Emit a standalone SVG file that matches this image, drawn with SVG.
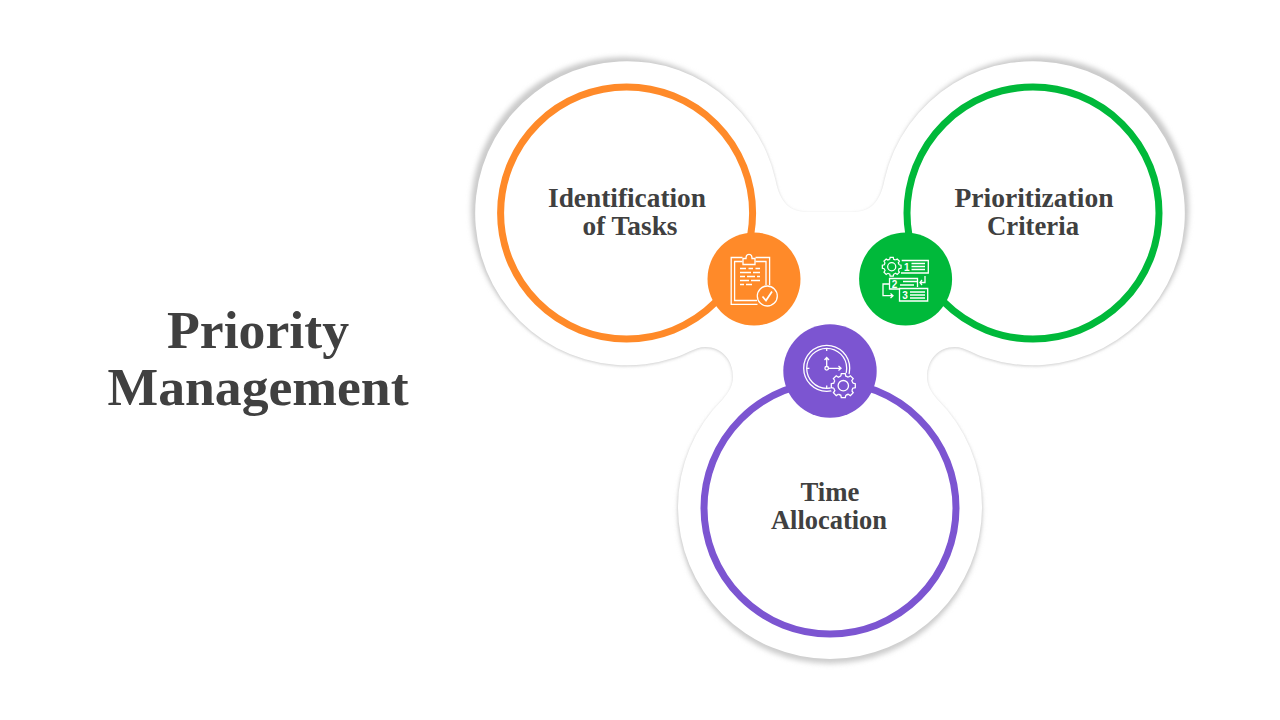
<svg xmlns="http://www.w3.org/2000/svg" xmlns:xlink="http://www.w3.org/1999/xlink" width="1280" height="720" viewBox="0 0 1280 720">
<style>
.t{font-family:"Liberation Serif","Noto Serif",serif;font-weight:700;fill:#404040;text-anchor:middle}
.title{font-size:52px}
.lab{font-size:28px}
.ring{fill:#fff;stroke-width:7}
.ic{fill:none;stroke:#fff;stroke-width:1.3;stroke-linecap:butt;stroke-linejoin:miter}
.num{font-family:"Liberation Sans",sans-serif;font-weight:700;font-size:10px;fill:#fff;text-anchor:middle}
</style>
<defs>
<filter id="b1" x="-10%" y="-10%" width="120%" height="120%"><feGaussianBlur stdDeviation="2.8"/></filter>
<filter id="b2" x="-10%" y="-10%" width="120%" height="120%"><feGaussianBlur stdDeviation="1.400"/></filter>
<path id="blobp" d="M775.500 180C780 203 790 212 808 212H852C870 212 880 203 884.500 180A152 152 0 1 1 985 357.500C975 355 965 347 955 347C938 347 927 360 927 377C927 385 931 392 937 399A152 152 0 1 1 723 399C729 392 733 385 733 377C733 360 722 347 705 347C695 347 685 355 675 357.500A152 152 0 1 1 775.500 180Z"/>
<g id="gear"><g id="tooth"><path d="M-2.500 -9.500L-2 -12H2L2.500 -9.500A9.820 9.820 0 0 1 4.950 -8.480"/></g>
<use xlink:href="#tooth" transform="rotate(45)"/><use xlink:href="#tooth" transform="rotate(90)"/><use xlink:href="#tooth" transform="rotate(135)"/><use xlink:href="#tooth" transform="rotate(180)"/><use xlink:href="#tooth" transform="rotate(225)"/><use xlink:href="#tooth" transform="rotate(270)"/><use xlink:href="#tooth" transform="rotate(315)"/><circle r="5.200"/></g>
</defs>
<rect width="1280" height="720" fill="#fff"/>
<g id="backdrop">
<circle cx="623" cy="209" r="152" fill="#cbcbcb" filter="url(#b1)"/>
<circle cx="1037" cy="209" r="152" fill="#cbcbcb" filter="url(#b1)"/>
<circle cx="830" cy="512" r="152" fill="#d0d0d0" filter="url(#b1)"/>
<use xlink:href="#blobp" fill="#cfcfcf" filter="url(#b2)" transform="translate(0 1)"/>
<use xlink:href="#blobp" fill="#fff"/>
</g>
<g id="title"><text class="t title" x="258" y="348" textLength="182" lengthAdjust="spacingAndGlyphs">Priority</text><text class="t title" x="258" y="405" textLength="301" lengthAdjust="spacingAndGlyphs">Management</text></g>
<g id="node-identification">
<circle class="ring" cx="626.600" cy="213" r="126" stroke="#ff8a29"/>
<text class="t lab" x="627" y="207" textLength="158" lengthAdjust="spacingAndGlyphs">Identification</text>
<text class="t lab" x="630" y="235" textLength="95" lengthAdjust="spacingAndGlyphs">of Tasks</text>
<circle cx="754" cy="279" r="46.500" fill="#ff8a29"/>
<g class="ic">
<path d="M757.500 304.400H731.200V257.500H742.500M755.500 257.500H769.600V285"/>
<path d="M757 300.500H734.600V261.500H742.500M755.500 261.500H766V285"/>
<path d="M743 264.500V258.500H746C746 253 752 253 752 258.500H755V264.500Z"/>
<circle cx="767.300" cy="296" r="10"/>
<path d="M762.500 296.500L766 300.500L772 291.500" stroke-width="1.700"/>
<path d="M740 268.500H746M748.500 268.500H753M755.500 268.500H760M740 272.500H751M753 272.500H760M740 276.500H745M747 276.500H755M757 276.500H760M740 280.500H749M751 280.500H760M740 284.500H744M746 284.500H752" stroke-width="1.600"/>
</g>
</g>
<g id="node-prioritization">
<circle class="ring" cx="1033" cy="213" r="126" stroke="#00b93a"/>
<text class="t lab" x="1034" y="207" textLength="159" lengthAdjust="spacingAndGlyphs">Prioritization</text>
<text class="t lab" x="1033" y="235" textLength="92" lengthAdjust="spacingAndGlyphs">Criteria</text>
<circle cx="905.600" cy="279" r="46.500" fill="#00b93a"/>
<g class="ic">
<use xlink:href="#gear" transform="translate(891.700 266.700) scale(.78)" stroke-width="1.600"/>
<path d="M901.700 260.500H928.300V273H901"/>
<text class="num" x="906.700" y="271" stroke="none">1</text>
<path d="M911.500 263.500H925M911.500 266.500H925M911.500 269.500H925"/>
<path d="M925 276V282.500H920M922 280L920 282.500L922 285"/>
<path d="M899.500 278.500H889.500V289H899.500M899.500 278.500H917.500V287"/>
<text class="num" x="894.500" y="288" stroke="none">2</text>
<path d="M903 281.500H917M900 285H914"/>
<path d="M889 284H883V295.700H892.700M890.500 293.500L893 295.700L890.500 298"/>
<path d="M899.500 288.500H927.700V301H899.500Z"/>
<text class="num" x="905" y="299" stroke="none">3</text>
<path d="M910 292H925M910 295H925M910 298H925"/>
</g>
</g>
<g id="node-time">
<circle class="ring" cx="830" cy="508" r="126" stroke="#7c55d1"/>
<text class="t lab" x="830" y="501" textLength="59" lengthAdjust="spacingAndGlyphs">Time</text>
<text class="t lab" x="829" y="529" textLength="116" lengthAdjust="spacingAndGlyphs">Allocation</text>
<circle cx="830" cy="371" r="46.700" fill="#7c55d1"/>
<g class="ic">
<circle cx="826.700" cy="368.300" r="23"/>
<circle cx="826.700" cy="368.300" r="20"/>
<path d="M826.700 366.500V357.500M824.500 360L826.700 357.500L829 360M828.500 368.300H841M838.500 366L841 368.300L838.500 370.500"/>
<circle cx="826.700" cy="368.300" r="1.800"/>
<path d="M826.700 348.300V351M806.700 368.300H809.400M826.700 388.300V385.600"/>
<circle cx="843.300" cy="385.700" r="13" fill="#7c55d1" stroke="none"/>
<use xlink:href="#gear" transform="translate(843.300 385.700)"/>
</g>
</g>
</svg>
